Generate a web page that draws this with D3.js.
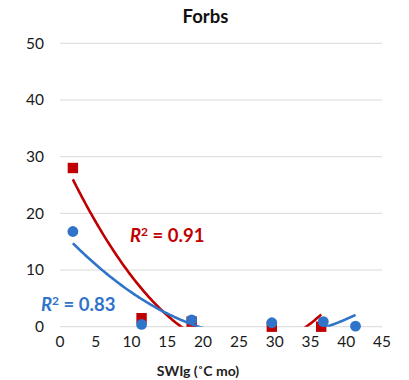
<!DOCTYPE html>
<html><head><meta charset="utf-8">
<script src="https://cdn.jsdelivr.net/npm/d3@7"></script>
<style>body{margin:0;background:#fff;} text{font-family:Lato,"Open Sans",sans-serif;}</style>
</head><body>
<svg id="c" width="409" height="380"></svg>
<script>
const title = "Forbs";
const xLabel = "SWIg (˚C mo)";
const xTicks = [0,5,10,15,20,25,30,35,40,45];
const yTicks = [0,10,20,30,40,50];
const redX = [1.8, 11.4, 18.4, 29.6, 36.5];
const redY = [28.0, 1.5, 0.9, 0.0, 0.0];
const blueX = [1.8, 11.4, 18.4, 29.6, 36.8, 41.3];
const blueY = [16.8, 0.4, 1.2, 0.7, 0.9, 0.1];
const redR2 = "0.91";
const blueR2 = "0.83";

const svg = d3.select("#c");
const x = d3.scaleLinear().domain([0,45]).range([60,382]);
const y = d3.scaleLinear().domain([0,50]).range([326.7,43.3]);
const RED = "#C00000", BLUE = "#2F74C8";

// gridlines
svg.append("g").selectAll("line").data(yTicks).join("line")
  .attr("x1", x(0)).attr("x2", x(45))
  .attr("y1", d=>y(d)).attr("y2", d=>y(d))
  .attr("stroke", "#d9d9d9").attr("stroke-width", 1);

// y labels
svg.append("g").selectAll("text").data(yTicks).join("text")
  .attr("x", 44).attr("y", d=>y(d)).attr("dy","0.35em")
  .attr("text-anchor","end").attr("font-size",15.5).attr("fill","#1a1a1a")
  .text(d=>d);
// x labels
svg.append("g").selectAll("text").data(xTicks).join("text")
  .attr("x", d=>x(d)).attr("y", 342).attr("dy","0.35em")
  .attr("text-anchor","middle").attr("font-size",15.5).attr("fill","#1a1a1a")
  .text(d=>d);

svg.append("text").attr("x",205.5).attr("y",17).attr("dy","0.35em")
  .attr("text-anchor","middle").attr("font-size",18.5).attr("font-weight","bold")
  .attr("fill","#111").text(title);
svg.append("text").attr("x",198).attr("y",371).attr("dy","0.35em")
  .attr("text-anchor","middle").attr("font-size",14).attr("font-weight","bold")
  .attr("fill","#222").text(xLabel);

// quadratic least squares
function quadFit(xs, ys){
  const n = xs.length;
  let S=[0,0,0,0,0], T=[0,0,0];
  for(let i=0;i<n;i++){
    let p=1;
    for(let k=0;k<5;k++){ S[k]+=p; if(k<3) T[k]+=p*ys[i]; p*=xs[i]; }
  }
  const A=[[S[0],S[1],S[2],T[0]],[S[1],S[2],S[3],T[1]],[S[2],S[3],S[4],T[2]]];
  for(let i=0;i<3;i++){
    for(let j=i+1;j<3;j++){ const f=A[j][i]/A[i][i]; for(let k=i;k<4;k++) A[j][k]-=f*A[i][k]; }
  }
  const c=[0,0,0];
  for(let i=2;i>=0;i--){ let s=A[i][3]; for(let k=i+1;k<3;k++) s-=A[i][k]*c[k]; c[i]=s/A[i][i]; }
  return c;
}

svg.append("defs").append("clipPath").attr("id","clip").append("rect")
  .attr("x",0).attr("y",y(50)).attr("width",409).attr("height",y(0)-y(50));

function trend(xs, ys, color){
  const c = quadFit(xs, ys);
  const x0 = d3.min(xs), x1 = d3.max(xs);
  const pts = d3.range(0,201).map(i=>{ const xv=x0+(x1-x0)*i/200; return [xv, c[0]+c[1]*xv+c[2]*xv*xv]; });
  svg.append("path").datum(pts).attr("clip-path","url(#clip)")
    .attr("d", d3.line().x(d=>x(d[0])).y(d=>y(d[1])))
    .attr("fill","none").attr("stroke",color).attr("stroke-width",2.6);
}

// markers
const redPts = redX.map((v,i)=>[v, redY[i]]);
const bluePts = blueX.map((v,i)=>[v, blueY[i]]);
svg.append("g").selectAll("rect").data(redPts).join("rect")
  .attr("x", d=>x(d[0])-5.2).attr("y", d=>y(d[1])-5.2).attr("width",10.4).attr("height",10.4)
  .attr("fill", RED);
svg.append("g").selectAll("circle").data(bluePts).join("circle")
  .attr("cx", d=>x(d[0])).attr("cy", d=>y(d[1])).attr("r",5.4)
  .attr("fill", BLUE);

trend(redX, redY, RED);
trend(blueX, blueY, BLUE);

function r2label(xp, yp, val, color){
  const t = svg.append("text").attr("x",xp).attr("y",yp).attr("dy","0.35em")
    .attr("font-size",18.5).attr("font-weight","bold").attr("fill",color);
  t.append("tspan").attr("font-style","italic").text("R");
  t.append("tspan").attr("font-size",12).attr("dy","-0.5em").text("2");
  t.append("tspan").attr("dy","0.3em").text(" = " + val);
}
r2label(130, 236, redR2, RED);
r2label(41, 305, blueR2, BLUE);
</script>
</body></html>
